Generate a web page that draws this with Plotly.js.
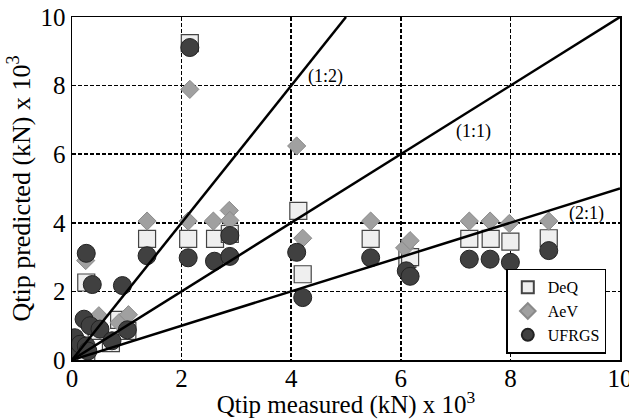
<!DOCTYPE html>
<html><head><meta charset="utf-8">
<script src="https://cdn.plot.ly/plotly-3.0.1.min.js"></script>
<style>html,body{margin:0;padding:0;background:#fff}#chart{width:629px;height:419px}</style>
</head><body><div id="chart"></div>
<script>
// DeQ (squares)
const deqX = [2.15, 1.37, 2.12, 2.61, 2.88, 4.13, 4.21, 5.45, 6.12, 6.17, 7.25, 7.64, 8.0, 8.7, 0.26, 0.71, 0.86, 1.01, 0.45, 0.26];
const deqY = [9.24, 3.53, 3.53, 3.53, 3.68, 4.35, 2.5, 3.53, 2.95, 3.0, 3.53, 3.53, 3.45, 3.55, 2.26, 0.49, 1.17, 0.85, 0.85, 0.21];
// AeV (diamonds)
const aevX = [2.15, 1.37, 2.12, 2.58, 2.87, 2.88, 4.1, 4.21, 5.45, 6.07, 6.17, 7.25, 7.63, 7.98, 8.7, 0.49, 0.86, 1.03, 0.25];
const aevY = [7.89, 4.05, 4.05, 4.05, 4.36, 4.07, 6.24, 3.55, 4.05, 3.27, 3.48, 4.05, 4.05, 3.98, 4.05, 1.29, 1.09, 1.32, 2.9];
// UFRGS (circles)
const ufrX = [2.15, 1.37, 2.12, 2.6, 2.88, 2.88, 4.1, 4.21, 5.45, 6.1, 6.17, 7.25, 7.63, 8.0, 8.7, 0.26, 0.37, 0.92, 0.22, 0.33, 0.51, 0.73, 1.01, 0.05, 0.0, 0.15, 0.26, 0.29];
const ufrY = [9.11, 3.04, 2.98, 2.88, 3.02, 3.63, 3.14, 1.82, 2.98, 2.6, 2.44, 2.94, 2.94, 2.85, 3.19, 3.11, 2.2, 2.17, 1.19, 1.0, 0.9, 0.56, 0.88, 0.65, 0.31, 0.46, 0.41, 0.26];
// Ratio lines
const ratioLabels = ['(1:2)', '(1:1)', '(2:1)'];
const ratioSlopes = [2, 1, 0.5];
const ratioLabelX = [4.62, 7.33, 9.39];
const ratioLabelY = [8.28, 6.65, 4.26];
const axisMax = 10;
const tickVals = [0, 2, 4, 6, 8, 10];

const serif = 'Liberation Serif';
const traces = [
  {x: deqX, y: deqY, mode: 'markers', type: 'scatter', name: 'DeQ',
   marker: {symbol: 'square', size: 17, color: '#efefef', line: {color: '#444', width: 1.2}}},
  {x: aevX, y: aevY, mode: 'markers', type: 'scatter', name: 'AeV',
   marker: {symbol: 'diamond', size: 14, color: '#a0a0a0', line: {color: '#8a8a8a', width: 1}}},
  {x: ufrX, y: ufrY, mode: 'markers', type: 'scatter', name: 'UFRGS',
   marker: {symbol: 'circle', size: 18, color: '#404040', line: {color: '#222', width: 1}}}
];
ratioSlopes.forEach((s, i) => {
  const xe = Math.min(axisMax, axisMax / s);
  traces.push({x: [0, xe], y: [0, xe * s], mode: 'lines', type: 'scatter', showlegend: false,
    hoverinfo: 'skip', line: {color: '#000', width: 2.5}});
});
const annotations = ratioLabels.map((t, i) => ({x: ratioLabelX[i], y: ratioLabelY[i], text: t, showarrow: false,
  font: {family: serif, size: 18, color: '#000'}}));

const axisCommon = {range: [0, axisMax], tickvals: tickVals, showgrid: true, gridcolor: '#000', gridwidth: 1.5,
  griddash: '4px,2px', zeroline: false, showline: true, mirror: true, linecolor: '#000', linewidth: 1.5,
  ticks: '', tickfont: {family: serif, size: 25, color: '#000'}, ticklabeloverflow: 'allow', fixedrange: true};

const layout = {
  width: 629, height: 419,
  margin: {l: 72, r: 9, t: 17, b: 59},
  paper_bgcolor: '#fff', plot_bgcolor: '#fff',
  xaxis: Object.assign({}, axisCommon, {ticklabelstandoff: -5,
    title: {text: 'Qtip measured (kN) x 10<sup>3</sup>', font: {family: serif, size: 25, color: '#000'}, standoff: 0}}),
  yaxis: Object.assign({}, axisCommon, {ticklabelstandoff: 0,
    title: {text: 'Qtip predicted (kN) x 10<sup>3</sup>', font: {family: serif, size: 26, color: '#000'}, standoff: 2}}),
  legend: {x: 0.975, y: 0.018, xanchor: 'right', yanchor: 'bottom', bgcolor: '#fff', bordercolor: '#000', borderwidth: 1.5,
    font: {family: serif, size: 16, color: '#000'}, itemsizing: 'constant', itemwidth: 30, tracegroupgap: 0},
  annotations: annotations,
  showlegend: true
};
Plotly.newPlot('chart', traces, layout, {displayModeBar: false, staticPlot: true});
</script></body></html>
